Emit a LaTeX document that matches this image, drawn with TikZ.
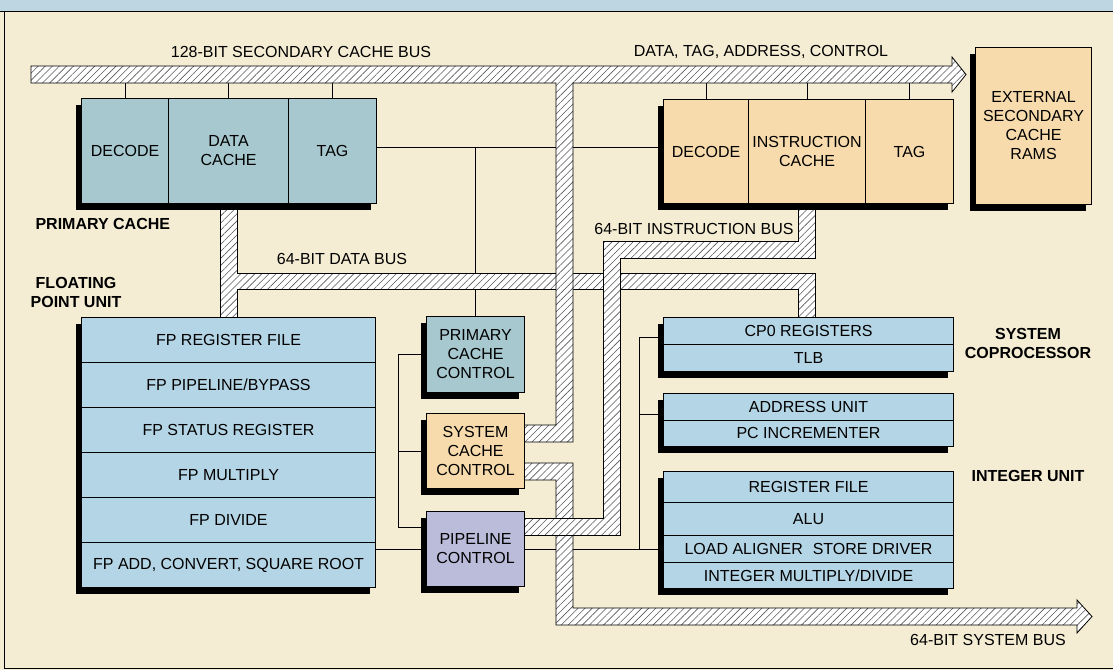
\documentclass[tikz,border=0pt]{standalone}
\usepackage{fontspec}
\setmainfont{Liberation Sans}
\usetikzlibrary{patterns.meta,shadows,backgrounds}

\definecolor{paper}{HTML}{F4EDD3}
\definecolor{header}{HTML}{BED6E2}
\definecolor{pcblue}{HTML}{A6C8CE}
\definecolor{fpblue}{HTML}{B4D5E5}
\definecolor{peach}{HTML}{F7DBAC}
\definecolor{lavender}{HTML}{BBBCDA}

\begin{document}
\begin{tikzpicture}[x=1pt, y=-1pt,
    font=\fontsize{16}{19}\selectfont,
    cell/.style={draw, line width=1.1pt, inner sep=0pt, anchor=north west, align=center},
    unit/.style={cell, drop shadow={shadow xshift=-6pt, shadow yshift=-6pt, fill=black, opacity=1}},
    heading/.style={font=\fontsize{16}{19}\selectfont\bfseries, align=center},
    bus/.style={draw, line width=0.8pt, preaction={fill=white},
        pattern={Lines[angle=45, distance=5pt, line width=0.6pt]}, pattern color=black!65},
    wire/.style={line width=0.9pt}
]
    \useasboundingbox (0,0) rectangle (1113,670);

    % Primary cache
    \node[unit, fill=pcblue, minimum width=295, minimum height=105] (pc) at (81,98) {};
    \node[cell, fill=pcblue, minimum width=87, minimum height=105] (pcdec) at (81,98) {DECODE};
    \node[cell, fill=pcblue, minimum width=120, minimum height=105] (pcdata) at (168,98) {DATA\\CACHE};
    \node[cell, fill=pcblue, minimum width=88, minimum height=105] (pctag) at (288,98) {TAG};

    % Instruction cache
    \node[unit, fill=peach, minimum width=290, minimum height=104] (ic) at (663,99) {};
    \node[cell, fill=peach, minimum width=85, minimum height=104] (icdec) at (663,99) {DECODE};
    \node[cell, fill=peach, minimum width=117, minimum height=104] (icdata) at (748,99) {INSTRUCTION\\CACHE};
    \node[cell, fill=peach, minimum width=88, minimum height=104] (ictag) at (865,99) {TAG};

    % External RAMs
    \node[unit, fill=peach, minimum width=116, minimum height=157] (ram) at (975,47) {EXTERNAL\\SECONDARY\\CACHE\\RAMS};

    % Floating point unit
    \node[unit, fill=fpblue, minimum width=294, minimum height=270] (fp) at (81,317) {};
    \foreach \txt [count=\i] in {FP REGISTER FILE, FP PIPELINE/BYPASS, FP STATUS REGISTER,
        FP MULTIPLY, FP DIVIDE, {FP ADD, CONVERT, SQUARE ROOT}}
        \node[cell, fill=fpblue, minimum width=294, minimum height=45] (fp\i) at (81,272+45*\i) {\txt};

    % Control blocks
    \node[unit, fill=pcblue, minimum width=98, minimum height=76] (pcc) at (426,316) {PRIMARY\\CACHE\\CONTROL};
    \node[unit, fill=peach, minimum width=98, minimum height=75] (scc) at (426,413) {SYSTEM\\CACHE\\CONTROL};
    \node[unit, fill=lavender, minimum width=98, minimum height=75] (plc) at (426,511) {PIPELINE\\CONTROL};

    % System coprocessor
    \node[unit, fill=fpblue, minimum width=290, minimum height=54] (cp0) at (663,317) {};
    \node[cell, fill=fpblue, minimum width=290, minimum height=27] (cp0reg) at (663,317) {CP0 REGISTERS};
    \node[cell, fill=fpblue, minimum width=290, minimum height=27] (cp0tlb) at (663,344) {TLB};

    % Address unit
    \node[unit, fill=fpblue, minimum width=290, minimum height=53] (adr) at (663,393) {};
    \node[cell, fill=fpblue, minimum width=290, minimum height=26.5] (adrunit) at (663,393) {ADDRESS UNIT};
    \node[cell, fill=fpblue, minimum width=290, minimum height=26.5] (adrpc) at (663,419.5) {PC INCREMENTER};

    % Integer unit
    \node[unit, fill=fpblue, minimum width=290, minimum height=117] (int) at (663,471) {};
    \node[cell, fill=fpblue, minimum width=290, minimum height=31] (intrf) at (663,471) {REGISTER FILE};
    \node[cell, fill=fpblue, minimum width=290, minimum height=33] (intalu) at (663,502) {ALU};
    \node[cell, fill=fpblue, minimum width=290, minimum height=27] (intld) at (663,535) {LOAD ALIGNER\hspace{10pt}STORE DRIVER};
    \node[cell, fill=fpblue, minimum width=290, minimum height=26] (intmd) at (663,562) {INTEGER MULTIPLY/DIVIDE};

    % Labels
    \node (sbuslbl) at (301,52) {128-BIT SECONDARY CACHE BUS};
    \node (dtaclbl) at (761,52) {DATA, TAG, ADDRESS, CONTROL};
    \node (dbuslbl) at (342,259) {64-BIT DATA BUS};
    \node (ibuslbl) at (694,229) {64-BIT INSTRUCTION BUS};
    \node (ybuslbl) at (988,640) {64-BIT SYSTEM BUS};
    \node[heading, anchor=west] (pclbl) at (32,224) {PRIMARY CACHE};
    \node[heading] (fplbl) at (76,292) {FLOATING\\POINT UNIT};
    \node[heading] (sclbl) at (1028,343) {SYSTEM\\COPROCESSOR};
    \node[heading] (iulbl) at (1028,476) {INTEGER UNIT};

    \begin{scope}[on background layer]
        % Frame
        \fill[paper] (0,0) rectangle (1113,670);
        \fill[header] (0,0) rectangle (1113,11);
        \draw[line width=0.8pt] (0,11) -- (1113,11) (4,11) -- (4,668) -- (1113,668);

        % Wires
        \foreach \c in {pcdec, pcdata, pctag, icdec, icdata, ictag}
            \draw[wire] (\c.north) -- ++(0,-16);
        \coordinate (tagline) at ([yshift=4pt]pctag.east);
        \coordinate (lctl) at (398,0);
        \coordinate (rctl) at (639,0);
        \draw[wire] (tagline) -- (tagline -| icdec.west);
        \draw[wire] (pcc.north) -- (pcc.north |- tagline);
        \draw[wire] (pcc.west) -| ([yshift=21.5pt]plc.west -| lctl) -- ([yshift=21.5pt]plc.west);
        \draw[wire] (scc.west) -- (scc.west -| lctl);
        \draw[wire] (plc.west) -- (plc.west -| fp6.east);
        \draw[wire] (plc.east) -- (plc.east -| int.west);
        \draw[wire] ([yshift=7pt]cp0.west) -| (rctl |- plc.east);
        \draw[wire] ([yshift=6pt]adr.west) -- ([yshift=6pt]adr.west -| rctl);

        % 64-bit data bus
        \draw[bus] (220,203) -- (237,203) -- (237,273) -- (815,273) -- (815,317) -- (798,317)
            -- (798,289) -- (237,289) -- (237,317) -- (220,317) -- cycle;
        % 128-bit secondary cache bus
        \draw[bus] (31,66) -- (952,66) -- (952,57) -- (966,74.5) -- (952,92) -- (952,83)
            -- (573,83) -- (573,442) -- (524,442) -- (524,425) -- (556,425) -- (556,83) -- (31,83) -- cycle;
        % 64-bit system bus
        \draw[bus] (524,463) -- (573,463) -- (573,608) -- (1077,608) -- (1077,600) -- (1092,616.5)
            -- (1077,633) -- (1077,625) -- (556,625) -- (556,480) -- (524,480) -- cycle;
        % 64-bit instruction bus
        \draw[bus] (798,203) -- (815,203) -- (815,258) -- (620,258) -- (620,535) -- (524,535)
            -- (524,518) -- (603,518) -- (603,241) -- (798,241) -- cycle;
    \end{scope}
\end{tikzpicture}
\end{document}
